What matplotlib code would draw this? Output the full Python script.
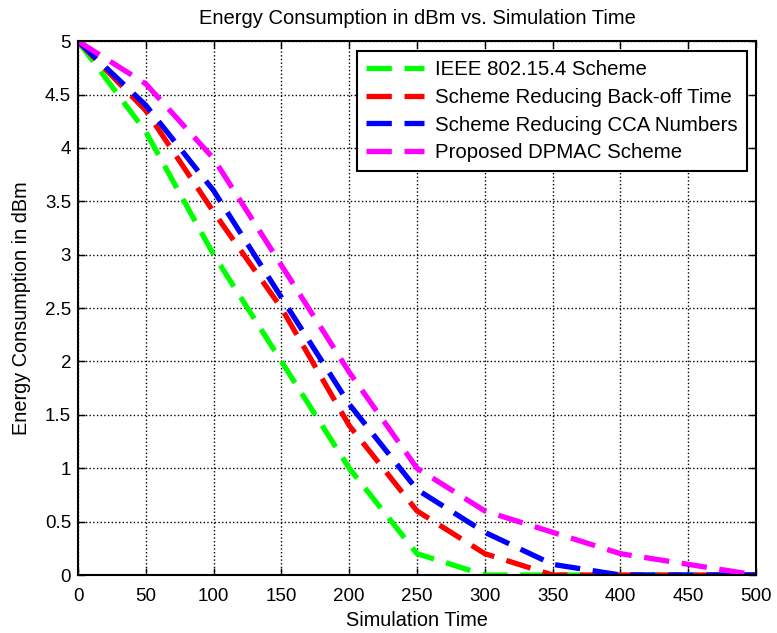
import numpy as np
import matplotlib.pyplot as plt
from matplotlib.ticker import FuncFormatter

plt.rcParams['font.family'] = ['Liberation Sans', 'DejaVu Sans']

time = [0, 50, 100, 150, 200, 250, 300, 350, 400, 450, 500]
ieee = [5, 4.15, 3.0, 2.0, 1.0, 0.2, 0, 0, 0, 0, 0]
backoff = [5, 4.35, 3.4, 2.5, 1.4, 0.6, 0.2, 0, 0, 0, 0]
cca = [5, 4.4, 3.6, 2.6, 1.6, 0.8, 0.4, 0.1, 0, 0, 0]
dpmac = [5, 4.6, 3.9, 2.9, 1.9, 1.0, 0.6, 0.4, 0.2, 0.1, 0]

labels = ['IEEE 802.15.4 Scheme', 'Scheme Reducing Back-off Time',
          'Scheme Reducing CCA Numbers', 'Proposed DPMAC Scheme']
colors = ['#00ff00', '#ff0000', '#0000ff', '#ff00ff']


def plotGraph():
    fig = plt.figure(figsize=(7.77, 6.33), dpi=100)
    ax = fig.add_axes([0.1004, 0.0916, 0.8726, 0.8434])
    series = [ieee, backoff, cca, dpmac]
    for y, lab, c in zip(series, labels, colors):
        ax.plot(time, y, color=c, linewidth=3.8, linestyle='--',
                dashes=(4.8, 2.4), label=lab)

    ax.set_xlim(0, 500)
    ax.set_ylim(0, 5)
    ax.set_xticks(np.arange(0, 501, 50))
    ax.set_yticks(np.arange(0, 5.01, 0.5))
    ax.yaxis.set_major_formatter(FuncFormatter(lambda v, p: '%g' % v))
    ax.tick_params(direction='in', top=True, right=True, labelsize=13.5,
                   length=5, width=1, pad=5)
    ax.tick_params(axis='x', pad=9)
    ax.grid(True, color='black', linestyle=':', linewidth=1)
    for s in ax.spines.values():
        s.set_linewidth(1.5)

    ax.set_title('Energy Consumption in dBm vs. Simulation Time', fontsize=14.5,
                 pad=12.5)
    ax.set_xlabel('Simulation Time', fontsize=14.3, labelpad=5)
    ax.set_ylabel('Energy Consumption in dBm', fontsize=14.3, labelpad=10)

    leg = ax.legend(loc='upper right', fontsize=14.7, handlelength=2.85,
                    handletextpad=0.55, fancybox=False, framealpha=1,
                    edgecolor='black', borderpad=0.45, labelspacing=0.42,
                    borderaxespad=0, bbox_to_anchor=(0.987, 0.981))
    leg.get_frame().set_linewidth(1.5)

    fig.savefig('out.png', dpi=100)


if __name__ == '__main__':
    plotGraph()
